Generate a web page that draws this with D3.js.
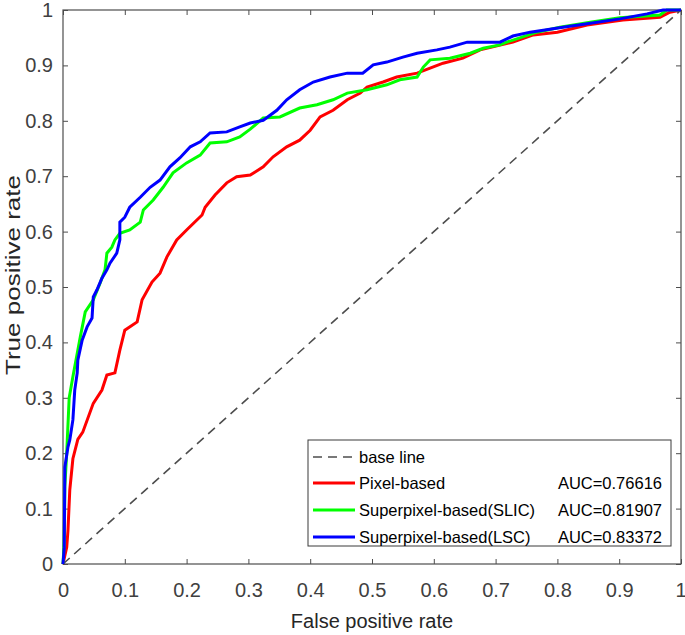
<!DOCTYPE html>
<html>
<head>
<meta charset="utf-8">
<script src="https://cdn.jsdelivr.net/npm/d3@7"></script>
<style>
  body { margin: 0; background: #fff; }
  svg { display: block; font-family: "Liberation Sans", Arial, sans-serif; }
</style>
</head>
<body>
<svg id="chart" width="685" height="635"></svg>
<script>
// ---- data ----
const xTicks = [0, 0.1, 0.2, 0.3, 0.4, 0.5, 0.6, 0.7, 0.8, 0.9, 1];
const yTicks = [0, 0.1, 0.2, 0.3, 0.4, 0.5, 0.6, 0.7, 0.8, 0.9, 1];
const xTickLabels = ["0", "0.1", "0.2", "0.3", "0.4", "0.5", "0.6", "0.7", "0.8", "0.9", "1"];
const yTickLabels = ["0", "0.1", "0.2", "0.3", "0.4", "0.5", "0.6", "0.7", "0.8", "0.9", "1"];
const seriesNames = ["Pixel-based", "Superpixel-based(SLIC)", "Superpixel-based(LSC)"];
const aucLabels = ["AUC=0.76616", "AUC=0.81907", "AUC=0.83372"];
const seriesColors = ["#ff0000", "#00ff00", "#0000ff"];
const baseName = "base line";
const baseFpr = [0, 1];
const baseTpr = [0, 1];

const fprPixel = [0,0.006,0.008,0.011,0.016,0.024,0.032,0.049,0.063,0.071,0.084,0.092,0.1,0.12,0.128,0.144,0.157,0.168,0.184,0.2,0.225,0.23,0.246,0.265,0.281,0.303,0.324,0.34,0.362,0.383,0.4,0.416,0.437,0.46,0.481,0.492,0.518,0.54,0.573,0.594,0.615,0.647,0.675,0.728,0.761,0.8,0.848,0.906,0.966,0.982,1];
const tprPixel = [0,0.03,0.06,0.134,0.19,0.225,0.238,0.29,0.314,0.341,0.345,0.386,0.422,0.437,0.477,0.509,0.525,0.554,0.585,0.603,0.63,0.644,0.666,0.688,0.699,0.702,0.717,0.735,0.753,0.765,0.783,0.807,0.819,0.838,0.85,0.861,0.87,0.879,0.886,0.895,0.904,0.913,0.928,0.942,0.955,0.96,0.973,0.982,0.987,0.996,1];

const fprSLIC = [0,0.002,0.003,0.006,0.01,0.016,0.028,0.036,0.049,0.06,0.068,0.071,0.079,0.084,0.092,0.108,0.125,0.13,0.146,0.162,0.178,0.2,0.222,0.238,0.265,0.286,0.303,0.324,0.351,0.383,0.411,0.437,0.46,0.492,0.524,0.545,0.573,0.583,0.594,0.626,0.659,0.68,0.707,0.718,0.767,0.804,0.853,0.901,0.966,0.977,1];
const tprSLIC = [0,0.04,0.14,0.2,0.3,0.338,0.41,0.455,0.477,0.507,0.531,0.561,0.572,0.585,0.597,0.603,0.617,0.639,0.657,0.68,0.706,0.724,0.738,0.76,0.762,0.771,0.785,0.805,0.807,0.823,0.829,0.838,0.85,0.856,0.865,0.874,0.879,0.897,0.91,0.913,0.922,0.931,0.937,0.942,0.96,0.969,0.978,0.986,0.991,1,1];

const fprLSC = [0,0.002,0.003,0.008,0.011,0.016,0.019,0.023,0.024,0.031,0.039,0.047,0.049,0.055,0.063,0.071,0.076,0.087,0.092,0.092,0.1,0.108,0.125,0.141,0.157,0.173,0.189,0.206,0.222,0.238,0.265,0.286,0.303,0.324,0.346,0.362,0.383,0.405,0.432,0.46,0.485,0.502,0.524,0.55,0.573,0.605,0.626,0.654,0.707,0.728,0.756,0.809,0.848,0.901,0.945,0.971,1];
const tprLSC = [0,0.03,0.175,0.211,0.224,0.26,0.314,0.345,0.368,0.404,0.428,0.444,0.482,0.495,0.516,0.531,0.543,0.561,0.585,0.617,0.626,0.644,0.662,0.68,0.693,0.717,0.733,0.753,0.762,0.778,0.78,0.789,0.796,0.801,0.819,0.838,0.856,0.87,0.879,0.886,0.886,0.901,0.906,0.915,0.922,0.928,0.933,0.942,0.942,0.953,0.96,0.969,0.975,0.984,0.993,1,1];

// ---- layout ----
const svg = d3.select("#chart");
const margin = {left: 63, top: 10, right: 4, bottom: 71};
const W = 685 - margin.left - margin.right;   // 618
const H = 635 - margin.top - margin.bottom;   // 554
const g = svg.append("g").attr("transform", `translate(${margin.left},${margin.top})`);

const x = d3.scaleLinear().domain([0, 1]).range([0, W]);
const y = d3.scaleLinear().domain([0, 1]).range([H, 0]);
const axisColor = "#4d4d4d";
const tickFont = 20;

function styleAxis(sel) {
  sel.select(".domain").remove();
  sel.selectAll(".tick line").attr("stroke", axisColor).attr("stroke-width", 1);
  sel.selectAll(".tick text").attr("fill", "#404040").attr("font-size", tickFont)
     .attr("font-family", '"Liberation Sans", Arial, sans-serif');
}

// bottom axis
const bx = g.append("g").attr("transform", `translate(0,${H})`)
  .call(d3.axisBottom(x).tickValues(xTicks).tickFormat((d, i) => xTickLabels[i])
        .tickSizeInner(-5).tickSizeOuter(0).tickPadding(19))
  .call(styleAxis);
// keep the last label inside the picture
bx.selectAll(".tick text").filter(d => d === 1).attr("text-anchor", "end").attr("dx", "5");
// left axis
g.append("g")
  .call(d3.axisLeft(y).tickValues(yTicks).tickFormat((d, i) => yTickLabels[i])
        .tickSizeInner(-5).tickSizeOuter(0).tickPadding(10))
  .call(styleAxis);
// top axis (ticks only)
g.append("g")
  .call(d3.axisTop(x).tickValues(xTicks).tickFormat("").tickSizeInner(-5).tickSizeOuter(0))
  .call(styleAxis);
// right axis (ticks only)
g.append("g").attr("transform", `translate(${W},0)`)
  .call(d3.axisRight(y).tickValues(yTicks).tickFormat("").tickSizeInner(-5).tickSizeOuter(0))
  .call(styleAxis);

// frame
g.append("rect").attr("x", 0).attr("y", 0).attr("width", W).attr("height", H)
  .attr("fill", "none").attr("stroke", axisColor).attr("stroke-width", 1.2);

// lines
const line = d3.line().x(d => x(d[0])).y(d => y(d[1]));
g.append("clipPath").attr("id", "clip").append("rect")
  .attr("x", -3).attr("y", -3).attr("width", W + 6).attr("height", H + 6);
const plot = g.append("g").attr("clip-path", "url(#clip)");

plot.append("path").datum(d3.zip(baseFpr, baseTpr)).attr("d", line)
  .attr("fill", "none").attr("stroke", "#4d4d4d").attr("stroke-width", 1.6)
  .attr("stroke-dasharray", "9,6");

const series = [
  d3.zip(fprPixel, tprPixel),
  d3.zip(fprSLIC, tprSLIC),
  d3.zip(fprLSC, tprLSC)
];
series.forEach((s, i) => {
  plot.append("path").datum(s).attr("d", line)
    .attr("fill", "none").attr("stroke", seriesColors[i]).attr("stroke-width", 3)
    .attr("stroke-linejoin", "miter");
});

// axis titles
svg.append("text").attr("x", margin.left + W / 2).attr("y", 628)
  .attr("text-anchor", "middle").attr("font-size", 20).attr("fill", "#262626")
  .text("False positive rate");
svg.append("text")
  .attr("transform", `translate(20,${275}) rotate(-90)`)
  .attr("text-anchor", "middle").attr("font-size", 21).attr("fill", "#262626")
  .attr("textLength", 200).attr("lengthAdjust", "spacingAndGlyphs")
  .text("True positive rate");

// legend
const lg = svg.append("g");
const lx0 = 308, ly0 = 440, lw = 363, lh = 106;
lg.append("rect").attr("x", lx0).attr("y", ly0).attr("width", lw).attr("height", lh)
  .attr("fill", "#fff").attr("stroke", "#3a3a3a").attr("stroke-width", 1);
const rowY = [457, 483, 510, 537];
const legFont = 16.5;
lg.append("line").attr("x1", 313).attr("x2", 355).attr("y1", rowY[0]).attr("y2", rowY[0])
  .attr("stroke", "#4d4d4d").attr("stroke-width", 1.6).attr("stroke-dasharray", "9,6");
lg.append("text").attr("x", 359).attr("y", rowY[0]).attr("dy", "0.35em")
  .attr("font-size", legFont).attr("fill", "#000").text(baseName);
seriesNames.forEach((n, i) => {
  const yy = rowY[i + 1];
  lg.append("line").attr("x1", 313).attr("x2", 355).attr("y1", yy).attr("y2", yy)
    .attr("stroke", seriesColors[i]).attr("stroke-width", 3);
  lg.append("text").attr("x", 359).attr("y", yy).attr("dy", "0.35em")
    .attr("font-size", legFont).attr("fill", "#000").text(n);
  lg.append("text").attr("x", 662).attr("y", yy).attr("dy", "0.35em").attr("text-anchor", "end")
    .attr("font-size", legFont).attr("fill", "#000").text(aucLabels[i]);
});
</script>
</body>
</html>
